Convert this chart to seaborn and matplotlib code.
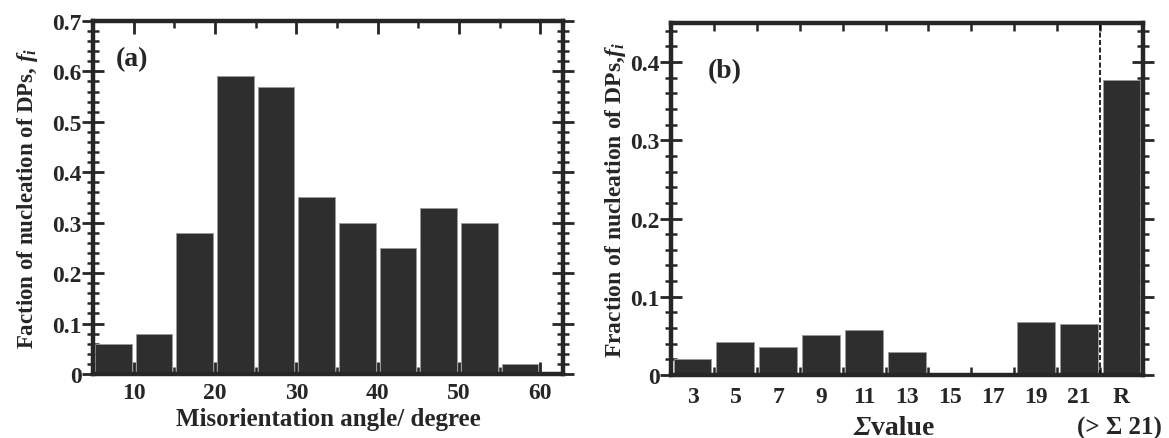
import numpy as np
import pandas as pd
import matplotlib
matplotlib.use('Agg')
import matplotlib.pyplot as plt
from matplotlib.ticker import MultipleLocator
import seaborn as sns

# (a) misorientation angle histogram (bin centres, degree)
angle_centers = [7.5, 12.5, 17.5, 22.5, 27.5, 32.5, 37.5, 42.5, 47.5, 52.5, 57.5]
angle_frac = [0.06, 0.08, 0.28, 0.59, 0.57, 0.35, 0.30, 0.25, 0.33, 0.30, 0.02]

# (b) sigma value
sigma_labels = ['3', '5', '7', '9', '11', '13', '15', '17', '19', '21', 'R']
sigma_frac = [0.020, 0.042, 0.036, 0.051, 0.057, 0.030, 0.0, 0.0, 0.068, 0.065, 0.377]

sns.set_style('ticks')
plt.rcParams['font.family'] = ['Liberation Serif', 'DejaVu Serif']
plt.rcParams['font.weight'] = 'bold'
plt.rcParams['axes.labelweight'] = 'bold'
plt.rcParams['mathtext.fontset'] = 'custom'
plt.rcParams['mathtext.rm'] = 'Liberation Serif:bold'
plt.rcParams['mathtext.it'] = 'Liberation Serif:italic:bold'
plt.rcParams['mathtext.bf'] = 'Liberation Serif:bold'

bar_color = '#2e2e2e'
tick_fs = 17

fig = plt.figure(figsize=(11.69, 4.39), dpi=100)
ax1 = fig.add_axes([0.0796, 0.1458, 0.402, 0.8042])
ax2 = fig.add_axes([0.574, 0.1435, 0.4038, 0.8018])

df_a = pd.DataFrame({'angle': angle_centers, 'frac': angle_frac})
sns.barplot(data=df_a, x='angle', y='frac', native_scale=True, width=0.9,
            color=bar_color, saturation=1, edgecolor='#9a9a9a', linewidth=0.6, ax=ax1)

df_b = pd.DataFrame({'sigma': sigma_labels, 'frac': sigma_frac})
sns.barplot(data=df_b, x='sigma', y='frac', order=sigma_labels, width=0.88,
            color=bar_color, saturation=1, edgecolor='#9a9a9a', linewidth=0.6, ax=ax2)


def style_axes(ax):
    for s in ax.spines.values():
        s.set_linewidth(3.2)
        s.set_zorder(5)
    ax.tick_params(axis='y', which='major', direction='inout', length=16, width=2,
                   left=True, right=True, labelsize=tick_fs, pad=0)
    ax.tick_params(axis='y', which='minor', direction='inout', length=8, width=1.8,
                   left=True, right=True)
    ax.yaxis.set_minor_locator(MultipleLocator(0.02))
    ax.yaxis.set_major_locator(MultipleLocator(0.1))
    ax.yaxis.set_major_formatter(plt.FuncFormatter(lambda v, p: '0' if v == 0 else f'{v:.1f}'))


# panel (a)
style_axes(ax1)
ax1.set_xlim(5, 62.8)
ax1.set_ylim(0, 0.7)
ax1.xaxis.set_minor_locator(MultipleLocator(5))
ax1.set_xticks([10, 20, 30, 40, 50, 60])
ax1.tick_params(axis='x', which='major', direction='in', length=9, width=2,
                top=True, bottom=True, labelsize=tick_fs, pad=6)
ax1.tick_params(axis='x', which='minor', direction='in', length=5, width=1.8,
                top=True, bottom=True)
ax1.set_xlabel('Misorientation angle/ degree', fontsize=18, labelpad=3)
ax1.set_ylabel('Faction of nucleation of DPs, $f_i$', fontsize=16.5, labelpad=9)
ax1.text(0.048, 0.875, '(a)', transform=ax1.transAxes, fontsize=20, fontweight='bold')

# panel (b)
style_axes(ax2)
ax2.set_xlim(-0.5, len(sigma_labels) - 0.5)
ax2.set_ylim(0, 0.45)
ax2.set_xticks(range(len(sigma_labels)))
ax2.set_xticklabels(sigma_labels)
ax2.set_xticks(np.arange(0.5, len(sigma_labels) - 1, 1.0), minor=True)
ax2.tick_params(axis='x', which='major', length=0, labelsize=tick_fs, pad=8)
ax2.tick_params(axis='x', which='minor', direction='in', length=6, width=1.8,
                top=True, bottom=True)
ax2.axvline(len(sigma_labels) - 1.5, color='black', linestyle=(0, (3, 1.5)), linewidth=1.2, zorder=4)
ax2.set_xlabel('')
ax2.set_ylabel('Fraction of nucleation of DPs,$f_i$', fontsize=17, labelpad=2)
# x label: italic sigma followed by upright "value"
ax2.text(0.423, -0.148, 'Σ', transform=ax2.transAxes, fontsize=20, fontweight='bold',
         fontstyle='italic', ha='right', va='center')
ax2.text(0.423, -0.148, 'value', transform=ax2.transAxes, fontsize=20, fontweight='bold',
         ha='left', va='center')
ax2.text(0.951, -0.148, '(> Σ 21)', transform=ax2.transAxes, fontsize=18,
         fontweight='bold', ha='center', va='center')
ax2.text(0.078, 0.845, '(b)', transform=ax2.transAxes, fontsize=20, fontweight='bold')

fig.savefig('out.png', dpi=100)
